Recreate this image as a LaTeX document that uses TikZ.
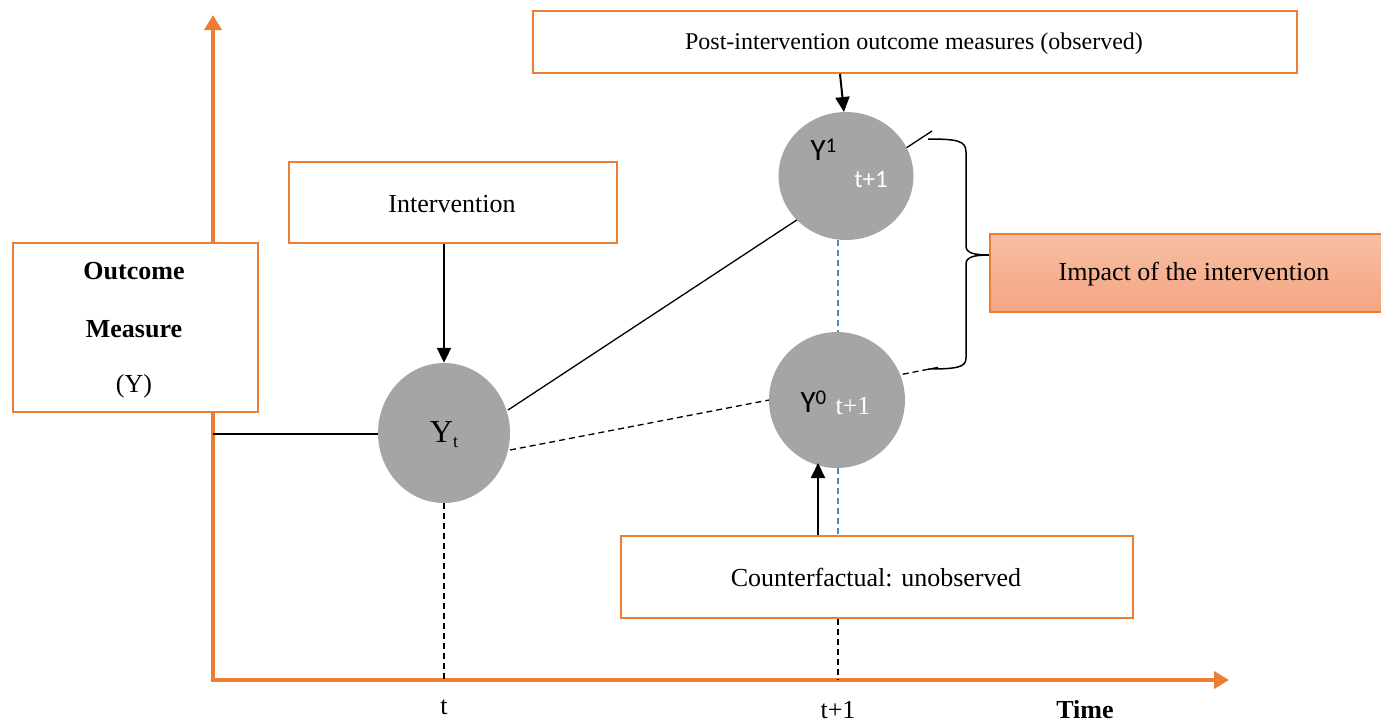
\documentclass[tikz,border=0pt]{standalone}
\usepackage{fontspec}
\setmainfont{Liberation Serif}
\newfontfamily\calib{Carlito}
\usetikzlibrary{arrows.meta,shapes.geometric,backgrounds}
\definecolor{axor}{HTML}{ED7D31}
\definecolor{circgray}{HTML}{A5A5A5}
\definecolor{bluedash}{HTML}{4F86C6}
\definecolor{imptop}{HTML}{F7BFA4}
\definecolor{impbot}{HTML}{F4A582}
\begin{document}
\begin{tikzpicture}[x=1pt,y=-1pt,
  txt/.style={font=\fontsize{26}{31}\selectfont},
  obox/.style={draw=axor,line width=2pt,fill=white,inner sep=0pt,anchor=north west},
  circ/.style={ellipse,fill=circgray,inner sep=0pt},
  axis/.style={draw=axor,line width=4pt,-{Triangle[width=17pt,length=15pt]}},
  blk/.style={line width=1.3pt,black},
  arr/.style={line width=2pt,-{Triangle[width=14pt,length=15pt]}},
  dsh/.style={line width=1.3pt,dash pattern=on 6pt off 4pt},
  bdsh/.style={line width=1.3pt,bluedash,dash pattern=on 6pt off 4pt}]
\useasboundingbox (0,0) rectangle (1381,724);

% coordinates
\coordinate (ao) at (213,680);
\coordinate (ytop) at (213,15);
\coordinate (xend) at (1229,680);
\coordinate (hl) at (213,434);
\coordinate (s1) at (508,410);
\coordinate (e1) at (932,131);
\coordinate (s2) at (510,450);
\coordinate (e2) at (940,367);
\coordinate (tb) at (444,680);
\coordinate (t1b) at (838,680);

% lines behind circles
\draw[blk] (s1) -- (e1);
\draw[blk,dsh] (s2) -- (e2);

% axes
\draw[axis] (ao) -- (ytop);
\draw[axis] ([xshift=-2pt]ao) -- (xend);

% circles
\node[circ,minimum width=132pt,minimum height=140pt] (Yt) at (444,433) {};
\node[circ,minimum width=135pt,minimum height=128pt] (Y1) at (846,176) {};
\node[circ,minimum width=136pt,minimum height=136pt] (Y0) at (837,400) {};

\node[font=\fontsize{32}{36}\selectfont] (Ytl) at (444,435) {Y\raisebox{-0.35ex}{\fontsize{18}{20}\selectfont t}};
\node[font=\calib\fontsize{31}{36}\selectfont,anchor=west] (Y1l) at (807,150) {Y\raisebox{0.55ex}{\fontsize{21}{24}\selectfont 1}};
\node[font=\calib\fontsize{25}{30}\selectfont,text=white] (Y1s) at (871,180) {t+1};
\node[font=\calib\fontsize{31}{36}\selectfont,anchor=west] (Y0l) at (797,402) {Y\raisebox{0.55ex}{\fontsize{21}{24}\selectfont 0}};
\node[font=\fontsize{26}{30}\selectfont,text=white] (Y0s) at (853,406) {t+1};

% boxes
\node[obox,minimum width=245pt,minimum height=169pt] (om) at (12,242) {};
\node[txt,font=\bfseries\fontsize{26}{31}\selectfont] (om1) at (134,271) {Outcome};
\node[txt,font=\bfseries\fontsize{26}{31}\selectfont] (om2) at (134,329) {Measure};
\node[txt] (om3) at (134,386) {(Y)};

\node[obox,minimum width=328pt,minimum height=81pt] (iv) at (288,161) {};
\node[txt] (ivl) at (452,204) {Intervention};

\node[obox,minimum width=764pt,minimum height=62pt] (pi) at (532,10) {};
\node[txt,font=\fontsize{24}{29}\selectfont] (pil) at (914,44) {Post-intervention outcome measures (observed)};

\node[obox,minimum width=512pt,minimum height=82pt] (cf) at (620,535) {};
\node[txt] (cfl) at (876,578) {Counterfactual: unobserved};

\node[draw=axor,line width=1.5pt,top color=imptop,bottom color=impbot,inner sep=0pt,anchor=north west,minimum width=392pt,minimum height=78pt] (imp) at (989,233) {};
\node[txt] (impl) at (1194,274) {Impact of the intervention};

% connectors
\draw[blk] (hl) -- (Yt.west |- hl);
\draw[arr] (iv.south -| Yt.north) -- (Yt.north);
\draw[blk,dsh] (Yt.south) -- (tb);
\draw[arr] (pi.south -| 840,0) -- (844,112);
\draw[bdsh] (Y1.south -| 838,0) -- (838,332);
\draw[bdsh] (838,468) -- (cf.north -| 838,0);
\draw[blk,dsh] (cf.south -| 838,0) -- (t1b);
\draw[arr] (cf.north -| 818,0) -- (818,463);

% brace
\draw[line width=1.5pt] (928,139) .. controls (958,139) and (966,141) .. (966,152) -- (966,246) .. controls (966,253) and (974,255) .. (imp.west |- 0,255) .. controls (974,255) and (966,257) .. (966,264) -- (966,358) .. controls (966,367) and (958,369) .. (928,369);

% axis labels
\node[txt] (tl) at (444,707) {t};
\node[txt] (t1l) at (838,710) {t+1};
\node[txt,font=\bfseries\fontsize{26}{31}\selectfont] (time) at (1085,710) {Time};
\end{tikzpicture}
\end{document}
